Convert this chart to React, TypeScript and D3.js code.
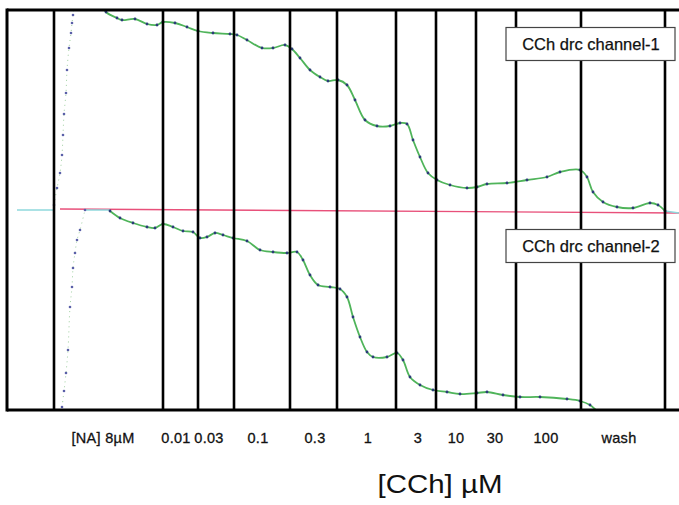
import React from "react";
import * as d3 from "d3";

// time (arbitrary units) of each drug addition (vertical event lines)
const eventTimes = [47, 156, 191, 227, 283, 330, 389, 429, 469, 509, 574, 658];
// concentration labels and where (time) they are written
const tickLabels = ["[NA] 8µM", "0.01", "0.03", "0.1", "0.3", "1", "3", "10", "30", "100", "wash"];
const tickTimes = [96, 169, 202, 251, 308, 361, 411, 449, 488, 539, 612];

// channel-1 : noradrenaline rise (dotted) and CCh trace
const ch1Baseline: [number, number][] = [[10, 50], [46, 50]];
const ch1Rise: [number, number][] = [
  [47, 51.25], [50, 55.5], [53, 59.25], [55, 63.75], [56, 68.75], [57, 74], [59, 79.25],
  [60, 85], [62, 90.5], [64, 94.25], [65, 96.75], [66, 98.75], [67, 101],
];
const ch1Trace: [number, number][] = [
  [95, 101.25], [99, 99.5], [110, 98], [115, 97.5], [128, 97.75], [140, 96.5], [150, 96.25],
  [156, 97], [168, 96.75], [180, 95.75], [191, 94.75], [206, 94.25], [223, 94], [230, 93.75],
  [240, 92.5], [255, 90.5], [266, 90.5], [278, 91.25], [285, 90.25], [293, 88], [303, 85],
  [313, 83.25], [321, 82.25], [331, 82.5], [340, 81.25], [348, 77.5], [358, 72.5], [370, 71],
  [383, 71], [393, 71.75], [400, 71.5], [406, 67.5], [413, 63.25], [421, 59.25], [430, 57.5],
  [443, 56.25], [460, 55.5], [470, 55.75], [480, 56.5], [500, 56.75], [520, 57.5], [540, 58.25],
  [553, 59.5], [573, 60], [580, 58.25], [586, 54.5], [596, 52], [610, 50.75], [626, 50.5],
  [643, 51.75], [651, 51.25], [658, 49.75],
];
const ch1Tail: [number, number][] = [[658, 49.75], [672, 49.25]];

// channel-2
const ch2Rise: [number, number][] = [
  [55, 0.75], [57, 4.75], [59, 9.25], [61, 15], [63, 25.75], [65, 30.75], [66, 35.5],
  [68, 39.25], [70, 42.5], [73, 45], [78, 50],
];
const ch2Plateau: [number, number][] = [[78, 50], [103, 50]];
const ch2Trace: [number, number][] = [
  [103, 49.75], [113, 48], [126, 46.75], [140, 45.75], [148, 45.5], [156, 46.5], [166, 45.75],
  [176, 44.75], [186, 44.5], [193, 43], [200, 43.25], [208, 44.25], [216, 43.75], [226, 43],
  [240, 42.25], [253, 40], [266, 39.5], [280, 39.25], [290, 39.5], [296, 37.5], [303, 33.75],
  [311, 31.25], [323, 30.75], [333, 30.25], [340, 28.25], [346, 23.25], [353, 18.25],
  [360, 14.5], [366, 13.25], [380, 13.25], [390, 14.25], [396, 12.5], [403, 8.25], [413, 6.25],
  [426, 5], [440, 4.5], [453, 4], [470, 4.25], [480, 4.5], [496, 3.75], [513, 3.25],
  [533, 3.25], [560, 2.75], [573, 2.25], [583, 1.25], [591, -0.5], [598, -2.5],
];

// reference (zero) line
const refLine: [number, number][] = [[53, 50.25], [672, 49.25]];

const legendLabels = ["CCh drc channel-1", "CCh drc channel-2"];
const legendLevels = [91.5, 41];
const xTitle = "[CCh] µM";

const W = 679;
const H = 505;
const left = 7;
const top = 10;
const bottom = 410;

export default function App() {
  const x = d3.scaleLinear().domain([0, 672]).range([left, W]);
  const y = d3.scaleLinear().domain([0, 100]).range([bottom, top]);
  const smooth = d3
    .line<[number, number]>()
    .x((d) => x(d[0]))
    .y((d) => y(d[1]))
    .curve(d3.curveCatmullRom.alpha(0.5));
  const straight = d3
    .line<[number, number]>()
    .x((d) => x(d[0]))
    .y((d) => y(d[1]));

  const green = "#4fb45a";
  const dotC = "#2c3c78";
  const cyan = "#8fd8dc";
  const font = "'Liberation Sans', Arial, sans-serif";

  return (
    <svg
      width={W}
      height={H}
      style={{ position: "fixed", left: 0, top: 0, background: "#fff" }}
      fontFamily={font}
    >
      <defs>
        <clipPath id="plot">
          <rect x={left} y={top} width={W - left} height={bottom - top} />
        </clipPath>
      </defs>
      <rect width={W} height={H} fill="#fff" />

      <g clipPath="url(#plot)">
        {/* reference line */}
        <path d={straight(refLine) || ""} stroke="#e8507a" strokeWidth={1.3} fill="none" />
        <path d={straight(ch1Baseline) || ""} stroke={cyan} strokeWidth={1.5} fill="none" />
        <path d={straight(ch2Plateau) || ""} stroke={cyan} strokeWidth={1.5} fill="none" />
        <path d={straight(ch1Tail) || ""} stroke={cyan} strokeWidth={1.5} fill="none" />

        {/* NA rises (dotted) */}
        {[ch1Rise, ch2Rise].map((s, i) => (
          <g key={"r" + i}>
            <path
              d={smooth(s) || ""}
              stroke="#9fd0a0"
              strokeWidth={1}
              strokeDasharray="1 4"
              fill="none"
            />
            {s.map((d, j) => (
              <circle key={j} cx={x(d[0])} cy={y(d[1])} r={1.3} fill="#5a5fa8" />
            ))}
          </g>
        ))}

        {/* traces */}
        {[ch1Trace, ch2Trace].map((s, i) => (
          <g key={"t" + i}>
            <path d={smooth(s) || ""} stroke={green} strokeWidth={1.8} fill="none" />
            {s.map((d, j) => (
              <circle key={j} cx={x(d[0])} cy={y(d[1])} r={1.4} fill={dotC} />
            ))}
          </g>
        ))}
      </g>

      {/* event lines */}
      {eventTimes.map((t, i) => (
        <line
          key={i}
          x1={x(t)}
          x2={x(t)}
          y1={top}
          y2={bottom}
          stroke="#000"
          strokeWidth={2.6}
        />
      ))}

      {/* frame */}
      <line x1={left} x2={W} y1={top} y2={top} stroke="#000" strokeWidth={3} />
      <line x1={left} x2={W} y1={bottom} y2={bottom} stroke="#000" strokeWidth={3} />
      <line x1={left} x2={left} y1={top - 1.5} y2={bottom + 1.5} stroke="#000" strokeWidth={3} />

      {/* legends */}
      {legendLabels.map((l, i) => {
        const cy = y(legendLevels[i]);
        return (
          <g key={l}>
            <rect
              x={506}
              y={cy - 16.5}
              width={169}
              height={33}
              fill="#fff"
              stroke="#444"
              strokeWidth={1.2}
            />
            <text
              x={591}
              y={cy + 6}
              textAnchor="middle"
              fontSize={16.5}
              fill="#111"
              stroke="#111"
              strokeWidth={0.25}
            >
              {l}
            </text>
          </g>
        );
      })}

      {/* tick labels */}
      {tickLabels.map((l, i) => (
        <text
          key={l}
          x={x(tickTimes[i])}
          y={443}
          textAnchor="middle"
          fontSize={14.5}
          fill="#111"
          stroke="#111"
          strokeWidth={0.3}
          letterSpacing={0.3}
        >
          {l}
        </text>
      ))}

      <text
        x={440}
        y={493}
        textAnchor="middle"
        fontSize={26}
        fill="#111"
        textLength={125}
        lengthAdjust="spacingAndGlyphs"
      >
        {xTitle}
      </text>
    </svg>
  );
}
